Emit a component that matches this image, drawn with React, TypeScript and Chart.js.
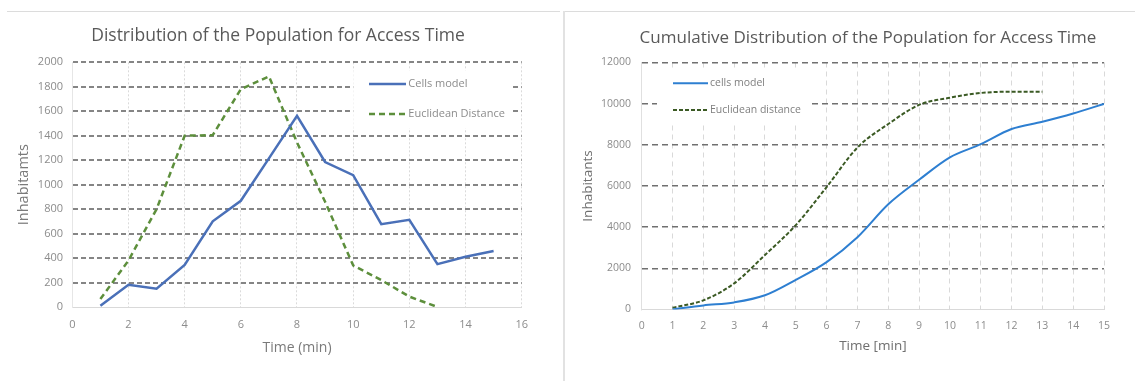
import { useEffect, useRef } from 'react';
import { Chart, registerables } from 'chart.js';

Chart.register(...registerables);

const FONT = "'Open Sans', 'DejaVu Sans', sans-serif";

// ---- Left chart: distribution ----
const distTitle = 'Distribution of the Population for Access Time';
const cellsTimes = [1, 2, 3, 4, 5, 6, 7, 8, 9, 10, 11, 12, 13, 14, 15];
const cellsInhabitants = [10, 182, 150, 343, 700, 868, 1215, 1562, 1185, 1077, 677, 713, 350, 410, 458];
const euclidTimes = [1, 2, 3, 4, 5, 6, 7, 8, 9, 10, 11, 12, 13];
const euclidInhabitants = [65, 380, 800, 1400, 1405, 1780, 1885, 1345, 860, 340, 220, 85, 0];
const distXTicks = { min: 0, max: 16, step: 2 };
const distYTicks = { min: 0, max: 2000, step: 200 };

// ---- Right chart: cumulative ----
const cumTitle = 'Cumulative Distribution of the Population for Access Time';
const cumCellsTimes = [1, 2, 3, 4, 5, 6, 7, 8, 9, 10, 11, 12, 13, 14, 15];
const cumCellsInhabitants = [0, 200, 345, 690, 1440, 2300, 3510, 5110, 6300, 7390, 8030, 8770, 9120, 9520, 9990];
const cumEuclidTimes = [1, 2, 3, 4, 5, 6, 7, 8, 9, 10, 11, 12, 13];
const cumEuclidInhabitants = [85, 445, 1270, 2650, 4100, 5950, 7870, 9010, 9940, 10290, 10520, 10580, 10580];
const cumXTicks = { min: 0, max: 15, step: 1 };
const cumYTicks = { min: 0, max: 12000, step: 2000 };

const toPoints = (xs: number[], ys: number[]) => xs.map((x, i) => ({ x, y: ys[i] }));
const plainNumber = (v: any) => String(v);

const inlineLegend = {
  id: 'inlineLegend',
  beforeDatasetsDraw(chart: any, _args: any, opts: any) {
    if (!opts || !opts.box) return;
    const { ctx, chartArea } = chart;
    const L = chartArea.left;
    const T = chartArea.top;
    ctx.save();
    ctx.fillStyle = '#ffffff';
    ctx.fillRect(L + opts.box.x, T + opts.box.y, opts.box.w, opts.box.h);
    chart.data.datasets.forEach((ds: any, i: number) => {
      const y = T + opts.rows[i];
      ctx.beginPath();
      ctx.strokeStyle = ds.borderColor;
      ctx.lineWidth = opts.lineWidth;
      ctx.setLineDash(ds.borderDash || []);
      ctx.moveTo(L + opts.lineX1, y);
      ctx.lineTo(L + opts.lineX2, y);
      ctx.stroke();
      ctx.setLineDash([]);
      ctx.fillStyle = opts.textColor;
      ctx.font = `${opts.fontSize}px ${FONT}`;
      ctx.textBaseline = 'middle';
      ctx.textAlign = 'left';
      ctx.fillText(ds.label, L + opts.textX, y);
    });
    ctx.restore();
  },
};

const titleShift = {
  id: 'titleShift',
  afterLayout(chart: any, _args: any, opts: any) {
    const t = chart.titleBlock;
    if (t && opts && typeof opts.centerX === 'number') {
      const d = opts.centerX - (t.left + t.right) / 2;
      t.left += d;
      t.right += d;
    }
  },
};

function useChart(ref: any, makeConfig: () => any) {
  useEffect(() => {
    if (!ref.current) return;
    const chart = new Chart(ref.current, makeConfig());
    return () => chart.destroy();
  }, []);
}

function distConfig() {
  return {
    type: 'line',
    data: {
      datasets: [
        {
          label: 'Cells model',
          data: toPoints(cellsTimes, cellsInhabitants),
          borderColor: '#4a70b8',
          borderWidth: 2.5,
          pointRadius: 0,
          tension: 0,
          fill: false,
        },
        {
          label: 'Euclidean Distance',
          data: toPoints(euclidTimes, euclidInhabitants),
          borderColor: '#5d8f3c',
          borderWidth: 2.5,
          borderDash: [6, 4],
          pointRadius: 0,
          tension: 0,
          fill: false,
        },
      ],
    },
    plugins: [inlineLegend, titleShift],
    options: {
      responsive: false,
      animation: false,
      events: [],
      layout: { padding: { left: 0, right: 38.3, top: 0, bottom: 0 } },
      plugins: {
        legend: { display: false },
        tooltip: { enabled: false },
        title: {
          display: true,
          text: distTitle,
          color: '#595959',
          font: { family: FONT, size: 17.5, weight: 'normal' },
          padding: { top: 25.5, bottom: 15.8 },
        },
        titleShift: { centerX: 278 },
        inlineLegend: {
          box: { x: 281, y: 8, w: 159, h: 58 },
          rows: [21.7, 51.7],
          lineX1: 296.7,
          lineX2: 333.7,
          textX: 336,
          lineWidth: 2.5,
          fontSize: 11,
          textColor: '#8c8c8c',
        },
      },
      scales: {
        x: {
          type: 'linear',
          min: distXTicks.min,
          max: distXTicks.max,
          ticks: {
            stepSize: distXTicks.step,
            callback: plainNumber,
            color: '#8c8c8c',
            font: { family: FONT, size: 11 },
            padding: 11.4,
          },
          grid: { color: '#dadada', lineWidth: 1, drawTicks: false },
          border: { display: true, color: '#d9d9d9', width: 1, dash: [2, 2] },
          title: {
            display: true,
            text: 'Time (min)',
            color: '#7a7a7a',
            font: { family: FONT, size: 14 },
            padding: { top: 0, bottom: 24.6 },
          },
          afterFit: (s: any) => {
            s.height = 74;
          },
        },
        y: {
          type: 'linear',
          min: distYTicks.min,
          max: distYTicks.max,
          ticks: {
            stepSize: distYTicks.step,
            callback: plainNumber,
            color: '#8c8c8c',
            font: { family: FONT, size: 11 },
            padding: 9.3,
          },
          grid: {
            color: (c: any) => (c.tick && c.tick.value === 0 ? 'rgba(0,0,0,0)' : '#858585'),
            lineWidth: 2,
            drawTicks: false,
          },
          border: { display: true, color: '#e6e6e6', width: 1, dash: [5, 3] },
          title: {
            display: true,
            text: 'Inhabitamts',
            color: '#7a7a7a',
            font: { family: FONT, size: 14.5 },
            padding: { top: 15.3, bottom: 0 },
          },
          afterFit: (s: any) => {
            s.width = 72.3;
          },
        },
      },
    },
  };
}

function cumConfig() {
  return {
    type: 'line',
    data: {
      datasets: [
        {
          label: 'cells model',
          data: toPoints(cumCellsTimes, cumCellsInhabitants),
          borderColor: '#2e7fd1',
          borderWidth: 2,
          pointRadius: 0,
          cubicInterpolationMode: 'monotone',
          fill: false,
        },
        {
          label: 'Euclidean distance',
          data: toPoints(cumEuclidTimes, cumEuclidInhabitants),
          borderColor: '#3b5a24',
          borderWidth: 2,
          borderDash: [4, 2],
          pointRadius: 0,
          cubicInterpolationMode: 'monotone',
          fill: false,
        },
      ],
    },
    plugins: [inlineLegend, titleShift],
    options: {
      responsive: false,
      animation: false,
      events: [],
      layout: { padding: { left: 0, right: 31, top: 0, bottom: 0 } },
      plugins: {
        legend: { display: false },
        tooltip: { enabled: false },
        title: {
          display: true,
          text: cumTitle,
          color: '#595959',
          font: { family: FONT, size: 17, weight: 'normal' },
          padding: { top: 28.1, bottom: 14 },
        },
        titleShift: { centerX: 302 },
        inlineLegend: {
          box: { x: 15.3, y: 7.5, w: 153, h: 55 },
          rows: [20.8, 47.5],
          lineX1: 31.3,
          lineX2: 66.3,
          textX: 68.3,
          lineWidth: 2,
          fontSize: 10.5,
          textColor: '#7f7f7f',
        },
      },
      scales: {
        x: {
          type: 'linear',
          min: cumXTicks.min,
          max: cumXTicks.max,
          ticks: {
            stepSize: cumXTicks.step,
            callback: plainNumber,
            color: '#8c8c8c',
            font: { family: FONT, size: 10.5 },
            padding: 10.5,
          },
          grid: { color: '#d9d9d9', lineWidth: 1, drawTicks: false },
          border: { display: true, color: '#d9d9d9', width: 1, dash: [5, 4] },
          title: {
            display: true,
            text: 'Time [min]',
            color: '#6f6f6f',
            font: { family: FONT, size: 13.5 },
            padding: { top: 0, bottom: 26.3 },
          },
          afterFit: (s: any) => {
            s.height = 71.5;
          },
        },
        y: {
          type: 'linear',
          min: cumYTicks.min,
          max: cumYTicks.max,
          ticks: {
            stepSize: cumYTicks.step,
            callback: plainNumber,
            color: '#8c8c8c',
            font: { family: FONT, size: 10.5 },
            padding: 10.7,
          },
          grid: {
            color: (c: any) => (c.tick && c.tick.value === 0 ? 'rgba(0,0,0,0)' : '#707070'),
            lineWidth: 1.5,
            drawTicks: false,
          },
          border: { display: true, color: '#e0e0e0', width: 1, dash: [6, 4] },
          title: {
            display: true,
            text: 'Inhabitants',
            color: '#6f6f6f',
            font: { family: FONT, size: 13.5 },
            padding: { top: 14, bottom: 0 },
          },
          afterFit: (s: any) => {
            s.width = 75.7;
          },
        },
      },
    },
  };
}

export default function App() {
  const leftRef = useRef<HTMLCanvasElement | null>(null);
  const rightRef = useRef<HTMLCanvasElement | null>(null);
  useChart(leftRef, distConfig);
  useChart(rightRef, cumConfig);

  return (
    <div
      style={{
        position: 'fixed',
        left: 0,
        top: 0,
        width: 1135,
        height: 381,
        background: '#ffffff',
        overflow: 'hidden',
      }}
    >
      <canvas ref={leftRef} width={560} height={381} style={{ position: 'absolute', left: 0, top: 0 }} />
      <canvas ref={rightRef} width={569} height={381} style={{ position: 'absolute', left: 566, top: 0 }} />
      <div style={{ position: 'absolute', left: 7, top: 11, width: 553, height: 1, background: '#dcdcdc' }} />
      <div style={{ position: 'absolute', left: 564, top: 11, width: 571, height: 1, background: '#dcdcdc' }} />
      <div style={{ position: 'absolute', left: 563, top: 11, width: 2, height: 370, background: '#e2e2e2' }} />
    </div>
  );
}
